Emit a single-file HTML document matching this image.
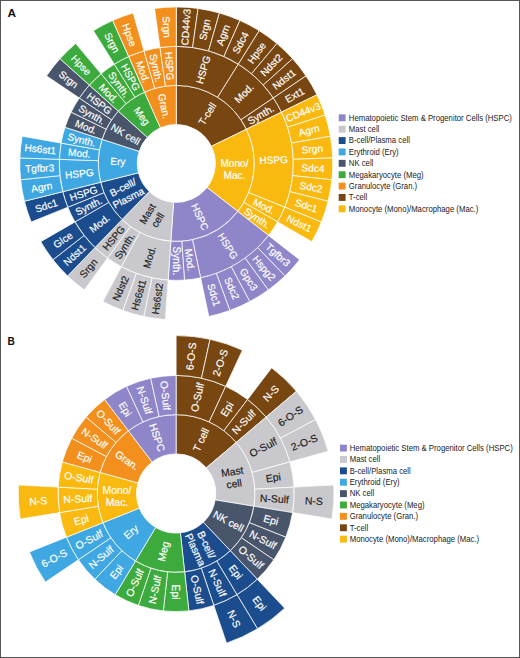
<!DOCTYPE html>
<html><head><meta charset="utf-8"><title>Figure</title>
<style>
html,body{margin:0;padding:0;background:#fff;}
body{width:520px;height:658px;overflow:hidden;position:relative;font-family:"Liberation Sans",sans-serif;}
svg{position:absolute;left:0;top:0;display:block;}
svg text{font-family:"Liberation Sans",sans-serif;}
.frame{position:absolute;left:0;top:0;width:518px;height:656px;border:1px solid #555;}
</style></head><body>
<svg width="520" height="658" viewBox="0 0 520 658">
<path d="M176.30 124.40L176.30 85.40A78.0 78.0 0 0 1 246.41 129.21L211.35 146.30A39.0 39.0 0 0 0 176.30 124.40Z" fill="#784610" stroke="#fff" stroke-width="0.75" stroke-linejoin="round"/>
<path d="M176.30 85.40L176.30 46.40A117.0 117.0 0 0 1 238.30 64.18L217.63 97.25A78.0 78.0 0 0 0 176.30 85.40Z" fill="#784610" stroke="#fff" stroke-width="0.75" stroke-linejoin="round"/>
<path d="M176.30 46.40L176.30 6.90A156.5 156.5 0 0 1 198.08 8.42L192.58 47.54A117.0 117.0 0 0 0 176.30 46.40Z" fill="#784610" stroke="#fff" stroke-width="0.75" stroke-linejoin="round"/>
<path d="M192.58 47.54L198.08 8.42A156.5 156.5 0 0 1 219.44 12.96L208.55 50.93A117.0 117.0 0 0 0 192.58 47.54Z" fill="#784610" stroke="#fff" stroke-width="0.75" stroke-linejoin="round"/>
<path d="M208.55 50.93L219.44 12.96A156.5 156.5 0 0 1 239.95 20.43L223.89 56.52A117.0 117.0 0 0 0 208.55 50.93Z" fill="#784610" stroke="#fff" stroke-width="0.75" stroke-linejoin="round"/>
<path d="M223.89 56.52L239.95 20.43A156.5 156.5 0 0 1 259.23 30.68L238.30 64.18A117.0 117.0 0 0 0 223.89 56.52Z" fill="#784610" stroke="#fff" stroke-width="0.75" stroke-linejoin="round"/>
<path d="M217.63 97.25L238.30 64.18A117.0 117.0 0 0 1 273.30 97.97L240.96 119.78A78.0 78.0 0 0 0 217.63 97.25Z" fill="#784610" stroke="#fff" stroke-width="0.75" stroke-linejoin="round"/>
<path d="M238.30 64.18L259.23 30.68A156.5 156.5 0 0 1 276.90 43.51L251.51 73.77A117.0 117.0 0 0 0 238.30 64.18Z" fill="#784610" stroke="#fff" stroke-width="0.75" stroke-linejoin="round"/>
<path d="M251.51 73.77L276.90 43.51A156.5 156.5 0 0 1 292.60 58.68L263.25 85.11A117.0 117.0 0 0 0 251.51 73.77Z" fill="#784610" stroke="#fff" stroke-width="0.75" stroke-linejoin="round"/>
<path d="M263.25 85.11L292.60 58.68A156.5 156.5 0 0 1 306.04 75.89L273.30 97.97A117.0 117.0 0 0 0 263.25 85.11Z" fill="#784610" stroke="#fff" stroke-width="0.75" stroke-linejoin="round"/>
<path d="M240.96 119.78L273.30 97.97A117.0 117.0 0 0 1 281.46 112.11L246.41 129.21A78.0 78.0 0 0 0 240.96 119.78Z" fill="#784610" stroke="#fff" stroke-width="0.75" stroke-linejoin="round"/>
<path d="M273.30 97.97L306.04 75.89A156.5 156.5 0 0 1 316.96 94.79L281.46 112.11A117.0 117.0 0 0 0 273.30 97.97Z" fill="#784610" stroke="#fff" stroke-width="0.75" stroke-linejoin="round"/>
<path d="M211.35 146.30L246.41 129.21A78.0 78.0 0 0 1 237.76 211.42L207.03 187.41A39.0 39.0 0 0 0 211.35 146.30Z" fill="#F9B90F" stroke="#fff" stroke-width="0.75" stroke-linejoin="round"/>
<path d="M246.41 129.21L281.46 112.11A117.0 117.0 0 0 1 284.78 207.23L248.62 192.62A78.0 78.0 0 0 0 246.41 129.21Z" fill="#F9B90F" stroke="#fff" stroke-width="0.75" stroke-linejoin="round"/>
<path d="M281.46 112.11L316.96 94.79A156.5 156.5 0 0 1 325.14 115.04L287.57 127.25A117.0 117.0 0 0 0 281.46 112.11Z" fill="#F9B90F" stroke="#fff" stroke-width="0.75" stroke-linejoin="round"/>
<path d="M287.57 127.25L325.14 115.04A156.5 156.5 0 0 1 330.42 136.22L291.52 143.08A117.0 117.0 0 0 0 287.57 127.25Z" fill="#F9B90F" stroke="#fff" stroke-width="0.75" stroke-linejoin="round"/>
<path d="M291.52 143.08L330.42 136.22A156.5 156.5 0 0 1 332.70 157.94L293.23 159.32A117.0 117.0 0 0 0 291.52 143.08Z" fill="#F9B90F" stroke="#fff" stroke-width="0.75" stroke-linejoin="round"/>
<path d="M293.23 159.32L332.70 157.94A156.5 156.5 0 0 1 331.94 179.76L292.66 175.63A117.0 117.0 0 0 0 293.23 159.32Z" fill="#F9B90F" stroke="#fff" stroke-width="0.75" stroke-linejoin="round"/>
<path d="M292.66 175.63L331.94 179.76A156.5 156.5 0 0 1 328.15 201.26L289.82 191.70A117.0 117.0 0 0 0 292.66 175.63Z" fill="#F9B90F" stroke="#fff" stroke-width="0.75" stroke-linejoin="round"/>
<path d="M289.82 191.70L328.15 201.26A156.5 156.5 0 0 1 321.40 222.03L284.78 207.23A117.0 117.0 0 0 0 289.82 191.70Z" fill="#F9B90F" stroke="#fff" stroke-width="0.75" stroke-linejoin="round"/>
<path d="M248.62 192.62L284.78 207.23A117.0 117.0 0 0 1 277.62 221.90L243.85 202.40A78.0 78.0 0 0 0 248.62 192.62Z" fill="#F9B90F" stroke="#fff" stroke-width="0.75" stroke-linejoin="round"/>
<path d="M284.78 207.23L321.40 222.03A156.5 156.5 0 0 1 311.83 241.65L277.62 221.90A117.0 117.0 0 0 0 284.78 207.23Z" fill="#F9B90F" stroke="#fff" stroke-width="0.75" stroke-linejoin="round"/>
<path d="M243.85 202.40L277.62 221.90A117.0 117.0 0 0 1 268.50 235.43L237.76 211.42A78.0 78.0 0 0 0 243.85 202.40Z" fill="#F9B90F" stroke="#fff" stroke-width="0.75" stroke-linejoin="round"/>
<path d="M207.03 187.41L237.76 211.42A78.0 78.0 0 0 1 170.86 241.21L173.58 202.30A39.0 39.0 0 0 0 207.03 187.41Z" fill="#8F86C9" stroke="#fff" stroke-width="0.75" stroke-linejoin="round"/>
<path d="M237.76 211.42L268.50 235.43A117.0 117.0 0 0 1 200.63 277.84L192.52 239.70A78.0 78.0 0 0 0 237.76 211.42Z" fill="#8F86C9" stroke="#fff" stroke-width="0.75" stroke-linejoin="round"/>
<path d="M268.50 235.43L299.62 259.75A156.5 156.5 0 0 1 285.01 275.98L257.58 247.56A117.0 117.0 0 0 0 268.50 235.43Z" fill="#8F86C9" stroke="#fff" stroke-width="0.75" stroke-linejoin="round"/>
<path d="M257.58 247.56L285.01 275.98A156.5 156.5 0 0 1 268.29 290.01L245.07 258.05A117.0 117.0 0 0 0 257.58 247.56Z" fill="#8F86C9" stroke="#fff" stroke-width="0.75" stroke-linejoin="round"/>
<path d="M245.07 258.05L268.29 290.01A156.5 156.5 0 0 1 249.77 301.58L231.23 266.70A117.0 117.0 0 0 0 245.07 258.05Z" fill="#8F86C9" stroke="#fff" stroke-width="0.75" stroke-linejoin="round"/>
<path d="M231.23 266.70L249.77 301.58A156.5 156.5 0 0 1 229.83 310.46L216.32 273.34A117.0 117.0 0 0 0 231.23 266.70Z" fill="#8F86C9" stroke="#fff" stroke-width="0.75" stroke-linejoin="round"/>
<path d="M216.32 273.34L229.83 310.46A156.5 156.5 0 0 1 208.84 316.48L200.63 277.84A117.0 117.0 0 0 0 216.32 273.34Z" fill="#8F86C9" stroke="#fff" stroke-width="0.75" stroke-linejoin="round"/>
<path d="M192.52 239.70L200.63 277.84A117.0 117.0 0 0 1 184.46 280.11L181.74 241.21A78.0 78.0 0 0 0 192.52 239.70Z" fill="#8F86C9" stroke="#fff" stroke-width="0.75" stroke-linejoin="round"/>
<path d="M181.74 241.21L184.46 280.11A117.0 117.0 0 0 1 168.14 280.11L170.86 241.21A78.0 78.0 0 0 0 181.74 241.21Z" fill="#8F86C9" stroke="#fff" stroke-width="0.75" stroke-linejoin="round"/>
<path d="M173.58 202.30L170.86 241.21A78.0 78.0 0 0 1 122.12 219.51L149.21 191.45A39.0 39.0 0 0 0 173.58 202.30Z" fill="#C9C9CD" stroke="#fff" stroke-width="0.75" stroke-linejoin="round"/>
<path d="M170.86 241.21L168.14 280.11A117.0 117.0 0 0 1 121.37 266.70L139.68 232.27A78.0 78.0 0 0 0 170.86 241.21Z" fill="#C9C9CD" stroke="#fff" stroke-width="0.75" stroke-linejoin="round"/>
<path d="M168.14 280.11L165.38 319.52A156.5 156.5 0 0 1 143.76 316.48L151.97 277.84A117.0 117.0 0 0 0 168.14 280.11Z" fill="#C9C9CD" stroke="#fff" stroke-width="0.75" stroke-linejoin="round"/>
<path d="M151.97 277.84L143.76 316.48A156.5 156.5 0 0 1 122.77 310.46L136.28 273.34A117.0 117.0 0 0 0 151.97 277.84Z" fill="#C9C9CD" stroke="#fff" stroke-width="0.75" stroke-linejoin="round"/>
<path d="M136.28 273.34L122.77 310.46A156.5 156.5 0 0 1 102.83 301.58L121.37 266.70A117.0 117.0 0 0 0 136.28 273.34Z" fill="#C9C9CD" stroke="#fff" stroke-width="0.75" stroke-linejoin="round"/>
<path d="M139.68 232.27L121.37 266.70A117.0 117.0 0 0 1 107.53 258.05L130.45 226.50A78.0 78.0 0 0 0 139.68 232.27Z" fill="#C9C9CD" stroke="#fff" stroke-width="0.75" stroke-linejoin="round"/>
<path d="M130.45 226.50L107.53 258.05A117.0 117.0 0 0 1 95.02 247.56L122.12 219.51A78.0 78.0 0 0 0 130.45 226.50Z" fill="#C9C9CD" stroke="#fff" stroke-width="0.75" stroke-linejoin="round"/>
<path d="M107.53 258.05L84.31 290.01A156.5 156.5 0 0 1 67.59 275.98L95.02 247.56A117.0 117.0 0 0 0 107.53 258.05Z" fill="#C9C9CD" stroke="#fff" stroke-width="0.75" stroke-linejoin="round"/>
<path d="M149.21 191.45L122.12 219.51A78.0 78.0 0 0 1 100.62 182.27L138.46 172.83A39.0 39.0 0 0 0 149.21 191.45Z" fill="#1B4C8E" stroke="#fff" stroke-width="0.75" stroke-linejoin="round"/>
<path d="M122.12 219.51L95.02 247.56A117.0 117.0 0 0 1 74.98 221.90L108.75 202.40A78.0 78.0 0 0 0 122.12 219.51Z" fill="#1B4C8E" stroke="#fff" stroke-width="0.75" stroke-linejoin="round"/>
<path d="M95.02 247.56L67.59 275.98A156.5 156.5 0 0 1 52.98 259.75L84.10 235.43A117.0 117.0 0 0 0 95.02 247.56Z" fill="#1B4C8E" stroke="#fff" stroke-width="0.75" stroke-linejoin="round"/>
<path d="M84.10 235.43L52.98 259.75A156.5 156.5 0 0 1 40.77 241.65L74.98 221.90A117.0 117.0 0 0 0 84.10 235.43Z" fill="#1B4C8E" stroke="#fff" stroke-width="0.75" stroke-linejoin="round"/>
<path d="M108.75 202.40L74.98 221.90A117.0 117.0 0 0 1 67.82 207.23L103.98 192.62A78.0 78.0 0 0 0 108.75 202.40Z" fill="#1B4C8E" stroke="#fff" stroke-width="0.75" stroke-linejoin="round"/>
<path d="M103.98 192.62L67.82 207.23A117.0 117.0 0 0 1 62.78 191.70L100.62 182.27A78.0 78.0 0 0 0 103.98 192.62Z" fill="#1B4C8E" stroke="#fff" stroke-width="0.75" stroke-linejoin="round"/>
<path d="M67.82 207.23L31.20 222.03A156.5 156.5 0 0 1 24.45 201.26L62.78 191.70A117.0 117.0 0 0 0 67.82 207.23Z" fill="#1B4C8E" stroke="#fff" stroke-width="0.75" stroke-linejoin="round"/>
<path d="M138.46 172.83L100.62 182.27A78.0 78.0 0 0 1 102.12 139.30L139.21 151.35A39.0 39.0 0 0 0 138.46 172.83Z" fill="#3FA7E1" stroke="#fff" stroke-width="0.75" stroke-linejoin="round"/>
<path d="M100.62 182.27L62.78 191.70A117.0 117.0 0 0 1 59.37 159.32L98.35 160.68A78.0 78.0 0 0 0 100.62 182.27Z" fill="#3FA7E1" stroke="#fff" stroke-width="0.75" stroke-linejoin="round"/>
<path d="M62.78 191.70L24.45 201.26A156.5 156.5 0 0 1 20.66 179.76L59.94 175.63A117.0 117.0 0 0 0 62.78 191.70Z" fill="#3FA7E1" stroke="#fff" stroke-width="0.75" stroke-linejoin="round"/>
<path d="M59.94 175.63L20.66 179.76A156.5 156.5 0 0 1 19.90 157.94L59.37 159.32A117.0 117.0 0 0 0 59.94 175.63Z" fill="#3FA7E1" stroke="#fff" stroke-width="0.75" stroke-linejoin="round"/>
<path d="M98.35 160.68L59.37 159.32A117.0 117.0 0 0 1 61.08 143.08L99.48 149.86A78.0 78.0 0 0 0 98.35 160.68Z" fill="#3FA7E1" stroke="#fff" stroke-width="0.75" stroke-linejoin="round"/>
<path d="M59.37 159.32L19.90 157.94A156.5 156.5 0 0 1 22.18 136.22L61.08 143.08A117.0 117.0 0 0 0 59.37 159.32Z" fill="#3FA7E1" stroke="#fff" stroke-width="0.75" stroke-linejoin="round"/>
<path d="M99.48 149.86L61.08 143.08A117.0 117.0 0 0 1 65.03 127.25L102.12 139.30A78.0 78.0 0 0 0 99.48 149.86Z" fill="#3FA7E1" stroke="#fff" stroke-width="0.75" stroke-linejoin="round"/>
<path d="M139.21 151.35L102.12 139.30A78.0 78.0 0 0 1 118.33 111.21L147.32 137.30A39.0 39.0 0 0 0 139.21 151.35Z" fill="#48556B" stroke="#fff" stroke-width="0.75" stroke-linejoin="round"/>
<path d="M102.12 139.30L65.03 127.25A117.0 117.0 0 0 1 71.14 112.11L106.19 129.21A78.0 78.0 0 0 0 102.12 139.30Z" fill="#48556B" stroke="#fff" stroke-width="0.75" stroke-linejoin="round"/>
<path d="M106.19 129.21L71.14 112.11A117.0 117.0 0 0 1 79.30 97.97L111.64 119.78A78.0 78.0 0 0 0 106.19 129.21Z" fill="#48556B" stroke="#fff" stroke-width="0.75" stroke-linejoin="round"/>
<path d="M111.64 119.78L79.30 97.97A117.0 117.0 0 0 1 89.35 85.11L118.33 111.21A78.0 78.0 0 0 0 111.64 119.78Z" fill="#48556B" stroke="#fff" stroke-width="0.75" stroke-linejoin="round"/>
<path d="M79.30 97.97L46.56 75.89A156.5 156.5 0 0 1 60.00 58.68L89.35 85.11A117.0 117.0 0 0 0 79.30 97.97Z" fill="#48556B" stroke="#fff" stroke-width="0.75" stroke-linejoin="round"/>
<path d="M147.32 137.30L118.33 111.21A78.0 78.0 0 0 1 144.57 92.14L160.44 127.77A39.0 39.0 0 0 0 147.32 137.30Z" fill="#3CAA3C" stroke="#fff" stroke-width="0.75" stroke-linejoin="round"/>
<path d="M118.33 111.21L89.35 85.11A117.0 117.0 0 0 1 101.09 73.77L126.16 103.65A78.0 78.0 0 0 0 118.33 111.21Z" fill="#3CAA3C" stroke="#fff" stroke-width="0.75" stroke-linejoin="round"/>
<path d="M89.35 85.11L60.00 58.68A156.5 156.5 0 0 1 75.70 43.51L101.09 73.77A117.0 117.0 0 0 0 89.35 85.11Z" fill="#3CAA3C" stroke="#fff" stroke-width="0.75" stroke-linejoin="round"/>
<path d="M126.16 103.65L101.09 73.77A117.0 117.0 0 0 1 114.30 64.18L134.97 97.25A78.0 78.0 0 0 0 126.16 103.65Z" fill="#3CAA3C" stroke="#fff" stroke-width="0.75" stroke-linejoin="round"/>
<path d="M134.97 97.25L114.30 64.18A117.0 117.0 0 0 1 128.71 56.52L144.57 92.14A78.0 78.0 0 0 0 134.97 97.25Z" fill="#3CAA3C" stroke="#fff" stroke-width="0.75" stroke-linejoin="round"/>
<path d="M114.30 64.18L93.37 30.68A156.5 156.5 0 0 1 112.65 20.43L128.71 56.52A117.0 117.0 0 0 0 114.30 64.18Z" fill="#3CAA3C" stroke="#fff" stroke-width="0.75" stroke-linejoin="round"/>
<path d="M160.44 127.77L144.57 92.14A78.0 78.0 0 0 1 176.30 85.40L176.30 124.40A39.0 39.0 0 0 0 160.44 127.77Z" fill="#F3901D" stroke="#fff" stroke-width="0.75" stroke-linejoin="round"/>
<path d="M144.57 92.14L128.71 56.52A117.0 117.0 0 0 1 144.05 50.93L154.80 88.42A78.0 78.0 0 0 0 144.57 92.14Z" fill="#F3901D" stroke="#fff" stroke-width="0.75" stroke-linejoin="round"/>
<path d="M128.71 56.52L112.65 20.43A156.5 156.5 0 0 1 133.16 12.96L144.05 50.93A117.0 117.0 0 0 0 128.71 56.52Z" fill="#F3901D" stroke="#fff" stroke-width="0.75" stroke-linejoin="round"/>
<path d="M154.80 88.42L144.05 50.93A117.0 117.0 0 0 1 160.02 47.54L165.44 86.16A78.0 78.0 0 0 0 154.80 88.42Z" fill="#F3901D" stroke="#fff" stroke-width="0.75" stroke-linejoin="round"/>
<path d="M165.44 86.16L160.02 47.54A117.0 117.0 0 0 1 176.30 46.40L176.30 85.40A78.0 78.0 0 0 0 165.44 86.16Z" fill="#F3901D" stroke="#fff" stroke-width="0.75" stroke-linejoin="round"/>
<path d="M160.02 47.54L154.52 8.42A156.5 156.5 0 0 1 176.30 6.90L176.30 46.40A117.0 117.0 0 0 0 160.02 47.54Z" fill="#F3901D" stroke="#fff" stroke-width="0.75" stroke-linejoin="round"/>
<g transform="translate(207.30 113.79) rotate(-58.00)"><text x="0" y="3.59" font-size="10.1" fill="#ffffff" stroke="#ffffff" stroke-width="0.18" text-anchor="middle">T-cell</text></g>
<g transform="translate(203.17 69.68) rotate(-74.00)"><text x="0" y="3.59" font-size="10.1" fill="#ffffff" stroke="#ffffff" stroke-width="0.18" text-anchor="middle">HSPG</text></g>
<g transform="translate(185.84 26.98) rotate(-86.00)"><text x="0" y="3.59" font-size="10.1" fill="#ffffff" stroke="#ffffff" stroke-width="0.18" text-anchor="middle">CD44v3</text></g>
<g transform="translate(204.73 29.64) rotate(-78.00)"><text x="0" y="3.59" font-size="10.1" fill="#ffffff" stroke="#ffffff" stroke-width="0.18" text-anchor="middle">Srgn</text></g>
<g transform="translate(223.07 34.90) rotate(-70.00)"><text x="0" y="3.59" font-size="10.1" fill="#ffffff" stroke="#ffffff" stroke-width="0.18" text-anchor="middle">Agrn</text></g>
<g transform="translate(240.50 42.66) rotate(-62.00)"><text x="0" y="3.59" font-size="10.1" fill="#ffffff" stroke="#ffffff" stroke-width="0.18" text-anchor="middle">Sdc4</text></g>
<g transform="translate(244.03 93.26) rotate(-46.00)"><text x="0" y="3.59" font-size="10.1" fill="#ffffff" stroke="#ffffff" stroke-width="0.18" text-anchor="middle">Mod.</text></g>
<g transform="translate(256.68 52.77) rotate(-54.00)"><text x="0" y="3.59" font-size="10.1" fill="#ffffff" stroke="#ffffff" stroke-width="0.18" text-anchor="middle">Hpse</text></g>
<g transform="translate(271.29 65.03) rotate(-46.00)"><text x="0" y="3.59" font-size="10.1" fill="#ffffff" stroke="#ffffff" stroke-width="0.18" text-anchor="middle">Ndst2</text></g>
<g transform="translate(284.06 79.21) rotate(-38.00)"><text x="0" y="3.59" font-size="10.1" fill="#ffffff" stroke="#ffffff" stroke-width="0.18" text-anchor="middle">Ndst1</text></g>
<g transform="translate(260.74 114.65) rotate(-30.00)"><text x="0" y="3.59" font-size="10.1" fill="#ffffff" stroke="#ffffff" stroke-width="0.18" text-anchor="middle">Synth.</text></g>
<g transform="translate(294.73 95.02) rotate(-30.00)"><text x="0" y="3.59" font-size="10.1" fill="#ffffff" stroke="#ffffff" stroke-width="0.18" text-anchor="middle">Ext1</text></g>
<g transform="translate(234.48 169.51) rotate(0.00)"><text x="0" y="-2.32" font-size="10.1" fill="#ffffff" stroke="#ffffff" stroke-width="0.18" text-anchor="middle">Mono/</text><text x="0" y="9.49" font-size="10.1" fill="#ffffff" stroke="#ffffff" stroke-width="0.18" text-anchor="middle">Mac.</text></g>
<g transform="translate(273.74 160.00) rotate(-2.00)"><text x="0" y="3.59" font-size="10.1" fill="#ffffff" stroke="#ffffff" stroke-width="0.18" text-anchor="middle">HSPG</text></g>
<g transform="translate(303.09 112.17) rotate(-22.00)"><text x="0" y="3.59" font-size="10.1" fill="#ffffff" stroke="#ffffff" stroke-width="0.18" text-anchor="middle">CD44v3</text></g>
<g transform="translate(308.99 130.32) rotate(-14.00)"><text x="0" y="3.59" font-size="10.1" fill="#ffffff" stroke="#ffffff" stroke-width="0.18" text-anchor="middle">Agrn</text></g>
<g transform="translate(312.30 149.11) rotate(-6.00)"><text x="0" y="3.59" font-size="10.1" fill="#ffffff" stroke="#ffffff" stroke-width="0.18" text-anchor="middle">Srgn</text></g>
<g transform="translate(312.97 168.17) rotate(2.00)"><text x="0" y="3.59" font-size="10.1" fill="#ffffff" stroke="#ffffff" stroke-width="0.18" text-anchor="middle">Sdc4</text></g>
<g transform="translate(310.97 187.15) rotate(10.00)"><text x="0" y="3.59" font-size="10.1" fill="#ffffff" stroke="#ffffff" stroke-width="0.18" text-anchor="middle">Sdc2</text></g>
<g transform="translate(306.36 205.66) rotate(18.00)"><text x="0" y="3.59" font-size="10.1" fill="#ffffff" stroke="#ffffff" stroke-width="0.18" text-anchor="middle">Sdc1</text></g>
<g transform="translate(263.93 206.14) rotate(26.00)"><text x="0" y="3.59" font-size="10.1" fill="#ffffff" stroke="#ffffff" stroke-width="0.18" text-anchor="middle">Mod.</text></g>
<g transform="translate(299.21 223.35) rotate(26.00)"><text x="0" y="3.59" font-size="10.1" fill="#ffffff" stroke="#ffffff" stroke-width="0.18" text-anchor="middle">Ndst1</text></g>
<g transform="translate(257.13 217.92) rotate(34.00)"><text x="0" y="3.59" font-size="10.1" fill="#ffffff" stroke="#ffffff" stroke-width="0.18" text-anchor="middle">Synth.</text></g>
<g transform="translate(200.09 216.84) rotate(66.00)"><text x="0" y="3.59" font-size="10.1" fill="#ffffff" stroke="#ffffff" stroke-width="0.18" text-anchor="middle">HSPC</text></g>
<g transform="translate(227.97 246.08) rotate(58.00)"><text x="0" y="3.59" font-size="10.1" fill="#ffffff" stroke="#ffffff" stroke-width="0.18" text-anchor="middle">HSPG</text></g>
<g transform="translate(277.93 254.90) rotate(42.00)"><text x="0" y="3.59" font-size="10.1" fill="#ffffff" stroke="#ffffff" stroke-width="0.18" text-anchor="middle">Tgfbr3</text></g>
<g transform="translate(264.20 268.16) rotate(50.00)"><text x="0" y="3.59" font-size="10.1" fill="#ffffff" stroke="#ffffff" stroke-width="0.18" text-anchor="middle">Hspg2</text></g>
<g transform="translate(248.77 279.37) rotate(58.00)"><text x="0" y="3.59" font-size="10.1" fill="#ffffff" stroke="#ffffff" stroke-width="0.18" text-anchor="middle">Gpc3</text></g>
<g transform="translate(231.92 288.33) rotate(66.00)"><text x="0" y="3.59" font-size="10.1" fill="#ffffff" stroke="#ffffff" stroke-width="0.18" text-anchor="middle">Sdc2</text></g>
<g transform="translate(213.99 294.85) rotate(74.00)"><text x="0" y="3.59" font-size="10.1" fill="#ffffff" stroke="#ffffff" stroke-width="0.18" text-anchor="middle">Sdc1</text></g>
<g transform="translate(189.87 259.95) rotate(82.00)"><text x="0" y="3.59" font-size="10.1" fill="#ffffff" stroke="#ffffff" stroke-width="0.18" text-anchor="middle">Mod.</text></g>
<g transform="translate(176.30 260.90) rotate(90.00)"><text x="0" y="3.59" font-size="10.1" fill="#ffffff" stroke="#ffffff" stroke-width="0.18" text-anchor="middle">Synth.</text></g>
<g transform="translate(152.51 216.84) rotate(-59.00)"><text x="0" y="-2.32" font-size="10.1" fill="#222222" stroke="#222222" stroke-width="0.18" text-anchor="middle">Mast</text><text x="0" y="9.49" font-size="10.1" fill="#222222" stroke="#222222" stroke-width="0.18" text-anchor="middle">cell</text></g>
<g transform="translate(149.43 257.12) rotate(-74.00)"><text x="0" y="3.59" font-size="10.1" fill="#222222" stroke="#222222" stroke-width="0.18" text-anchor="middle">Mod.</text></g>
<g transform="translate(157.27 298.82) rotate(-82.00)"><text x="0" y="3.59" font-size="10.1" fill="#222222" stroke="#222222" stroke-width="0.18" text-anchor="middle">Hs6st2</text></g>
<g transform="translate(138.61 294.85) rotate(-74.00)"><text x="0" y="3.59" font-size="10.1" fill="#222222" stroke="#222222" stroke-width="0.18" text-anchor="middle">Hs6st1</text></g>
<g transform="translate(120.68 288.33) rotate(-66.00)"><text x="0" y="3.59" font-size="10.1" fill="#222222" stroke="#222222" stroke-width="0.18" text-anchor="middle">Ndst2</text></g>
<g transform="translate(124.63 246.08) rotate(-58.00)"><text x="0" y="3.59" font-size="10.1" fill="#222222" stroke="#222222" stroke-width="0.18" text-anchor="middle">Synth.</text></g>
<g transform="translate(113.63 238.09) rotate(-50.00)"><text x="0" y="3.59" font-size="10.1" fill="#222222" stroke="#222222" stroke-width="0.18" text-anchor="middle">HSPG</text></g>
<g transform="translate(88.40 268.16) rotate(-50.00)"><text x="0" y="3.59" font-size="10.1" fill="#222222" stroke="#222222" stroke-width="0.18" text-anchor="middle">Srgn</text></g>
<g transform="translate(125.64 192.65) rotate(-27.00)"><text x="0" y="-2.32" font-size="10.1" fill="#ffffff" stroke="#ffffff" stroke-width="0.18" text-anchor="middle">B-cell/</text><text x="0" y="9.49" font-size="10.1" fill="#ffffff" stroke="#ffffff" stroke-width="0.18" text-anchor="middle">Plasma</text></g>
<g transform="translate(99.47 223.43) rotate(-38.00)"><text x="0" y="3.59" font-size="10.1" fill="#ffffff" stroke="#ffffff" stroke-width="0.18" text-anchor="middle">Mod.</text></g>
<g transform="translate(74.67 254.90) rotate(-42.00)"><text x="0" y="3.59" font-size="10.1" fill="#ffffff" stroke="#ffffff" stroke-width="0.18" text-anchor="middle">Ndst1</text></g>
<g transform="translate(62.93 239.87) rotate(-34.00)"><text x="0" y="3.59" font-size="10.1" fill="#ffffff" stroke="#ffffff" stroke-width="0.18" text-anchor="middle">Glce</text></g>
<g transform="translate(88.67 206.14) rotate(-26.00)"><text x="0" y="3.59" font-size="10.1" fill="#ffffff" stroke="#ffffff" stroke-width="0.18" text-anchor="middle">Synth.</text></g>
<g transform="translate(83.57 193.53) rotate(-18.00)"><text x="0" y="3.59" font-size="10.1" fill="#ffffff" stroke="#ffffff" stroke-width="0.18" text-anchor="middle">HSPG</text></g>
<g transform="translate(46.24 205.66) rotate(-18.00)"><text x="0" y="3.59" font-size="10.1" fill="#ffffff" stroke="#ffffff" stroke-width="0.18" text-anchor="middle">Sdc1</text></g>
<g transform="translate(117.84 161.36) rotate(2.00)"><text x="0" y="3.59" font-size="10.1" fill="#ffffff" stroke="#ffffff" stroke-width="0.18" text-anchor="middle">Ery</text></g>
<g transform="translate(79.33 173.59) rotate(-6.00)"><text x="0" y="3.59" font-size="10.1" fill="#ffffff" stroke="#ffffff" stroke-width="0.18" text-anchor="middle">HSPG</text></g>
<g transform="translate(41.63 187.15) rotate(-10.00)"><text x="0" y="3.59" font-size="10.1" fill="#ffffff" stroke="#ffffff" stroke-width="0.18" text-anchor="middle">Agrn</text></g>
<g transform="translate(39.63 168.17) rotate(-2.00)"><text x="0" y="3.59" font-size="10.1" fill="#ffffff" stroke="#ffffff" stroke-width="0.18" text-anchor="middle">Tgfbr3</text></g>
<g transform="translate(79.33 153.21) rotate(6.00)"><text x="0" y="3.59" font-size="10.1" fill="#ffffff" stroke="#ffffff" stroke-width="0.18" text-anchor="middle">Mod.</text></g>
<g transform="translate(40.30 149.11) rotate(6.00)"><text x="0" y="3.59" font-size="10.1" fill="#ffffff" stroke="#ffffff" stroke-width="0.18" text-anchor="middle">Hs6st1</text></g>
<g transform="translate(81.70 139.81) rotate(14.00)"><text x="0" y="3.59" font-size="10.1" fill="#ffffff" stroke="#ffffff" stroke-width="0.18" text-anchor="middle">Synth.</text></g>
<g transform="translate(125.64 134.15) rotate(30.00)"><text x="0" y="3.59" font-size="10.1" fill="#ffffff" stroke="#ffffff" stroke-width="0.18" text-anchor="middle">NK cell</text></g>
<g transform="translate(85.90 126.88) rotate(22.00)"><text x="0" y="3.59" font-size="10.1" fill="#ffffff" stroke="#ffffff" stroke-width="0.18" text-anchor="middle">Mod.</text></g>
<g transform="translate(91.86 114.65) rotate(30.00)"><text x="0" y="3.59" font-size="10.1" fill="#ffffff" stroke="#ffffff" stroke-width="0.18" text-anchor="middle">Synth.</text></g>
<g transform="translate(99.47 103.37) rotate(38.00)"><text x="0" y="3.59" font-size="10.1" fill="#ffffff" stroke="#ffffff" stroke-width="0.18" text-anchor="middle">HSPG</text></g>
<g transform="translate(68.54 79.21) rotate(38.00)"><text x="0" y="3.59" font-size="10.1" fill="#ffffff" stroke="#ffffff" stroke-width="0.18" text-anchor="middle">Srgn</text></g>
<g transform="translate(141.91 116.07) rotate(54.00)"><text x="0" y="3.59" font-size="10.1" fill="#ffffff" stroke="#ffffff" stroke-width="0.18" text-anchor="middle">Meg</text></g>
<g transform="translate(108.57 93.26) rotate(46.00)"><text x="0" y="3.59" font-size="10.1" fill="#ffffff" stroke="#ffffff" stroke-width="0.18" text-anchor="middle">Mod.</text></g>
<g transform="translate(81.31 65.03) rotate(46.00)"><text x="0" y="3.59" font-size="10.1" fill="#ffffff" stroke="#ffffff" stroke-width="0.18" text-anchor="middle">Hpse</text></g>
<g transform="translate(118.99 84.52) rotate(54.00)"><text x="0" y="3.59" font-size="10.1" fill="#ffffff" stroke="#ffffff" stroke-width="0.18" text-anchor="middle">Synth.</text></g>
<g transform="translate(130.53 77.31) rotate(62.00)"><text x="0" y="3.59" font-size="10.1" fill="#ffffff" stroke="#ffffff" stroke-width="0.18" text-anchor="middle">HSPG</text></g>
<g transform="translate(112.10 42.66) rotate(62.00)"><text x="0" y="3.59" font-size="10.1" fill="#ffffff" stroke="#ffffff" stroke-width="0.18" text-anchor="middle">Srgn</text></g>
<g transform="translate(164.14 106.18) rotate(78.00)"><text x="0" y="3.59" font-size="10.1" fill="#ffffff" stroke="#ffffff" stroke-width="0.18" text-anchor="middle">Gran.</text></g>
<g transform="translate(142.95 71.78) rotate(70.00)"><text x="0" y="3.59" font-size="10.1" fill="#ffffff" stroke="#ffffff" stroke-width="0.18" text-anchor="middle">Mod.</text></g>
<g transform="translate(129.53 34.90) rotate(70.00)"><text x="0" y="3.59" font-size="10.1" fill="#ffffff" stroke="#ffffff" stroke-width="0.18" text-anchor="middle">Hpse</text></g>
<g transform="translate(156.03 68.03) rotate(78.00)"><text x="0" y="3.59" font-size="10.1" fill="#ffffff" stroke="#ffffff" stroke-width="0.18" text-anchor="middle">Synth.</text></g>
<g transform="translate(169.50 66.14) rotate(86.00)"><text x="0" y="3.59" font-size="10.1" fill="#ffffff" stroke="#ffffff" stroke-width="0.18" text-anchor="middle">HSPG</text></g>
<g transform="translate(166.76 26.98) rotate(86.00)"><text x="0" y="3.59" font-size="10.1" fill="#ffffff" stroke="#ffffff" stroke-width="0.18" text-anchor="middle">Srgn</text></g>
<path d="M176.10 453.90L176.10 414.65A78.85 78.85 0 0 1 236.20 442.45L206.28 467.86A39.6 39.6 0 0 0 176.10 453.90Z" fill="#784610" stroke="#fff" stroke-width="0.75" stroke-linejoin="round"/>
<path d="M176.10 414.65L176.10 375.40A118.1 118.1 0 0 1 225.69 386.32L209.21 421.94A78.85 78.85 0 0 0 176.10 414.65Z" fill="#784610" stroke="#fff" stroke-width="0.75" stroke-linejoin="round"/>
<path d="M176.10 375.40L176.10 335.60A157.9 157.9 0 0 1 210.04 339.29L201.49 378.16A118.1 118.1 0 0 0 176.10 375.40Z" fill="#784610" stroke="#fff" stroke-width="0.75" stroke-linejoin="round"/>
<path d="M201.49 378.16L210.04 339.29A157.9 157.9 0 0 1 242.40 350.19L225.69 386.32A118.1 118.1 0 0 0 201.49 378.16Z" fill="#784610" stroke="#fff" stroke-width="0.75" stroke-linejoin="round"/>
<path d="M209.21 421.94L225.69 386.32A118.1 118.1 0 0 1 247.57 399.48L223.82 430.73A78.85 78.85 0 0 0 209.21 421.94Z" fill="#784610" stroke="#fff" stroke-width="0.75" stroke-linejoin="round"/>
<path d="M223.82 430.73L247.57 399.48A118.1 118.1 0 0 1 266.11 417.04L236.20 442.45A78.85 78.85 0 0 0 223.82 430.73Z" fill="#784610" stroke="#fff" stroke-width="0.75" stroke-linejoin="round"/>
<path d="M247.57 399.48L271.66 367.80A157.9 157.9 0 0 1 296.45 391.28L266.11 417.04A118.1 118.1 0 0 0 247.57 399.48Z" fill="#784610" stroke="#fff" stroke-width="0.75" stroke-linejoin="round"/>
<path d="M206.28 467.86L236.20 442.45A78.85 78.85 0 0 1 253.91 506.26L215.18 499.91A39.6 39.6 0 0 0 206.28 467.86Z" fill="#C9C9CD" stroke="#fff" stroke-width="0.75" stroke-linejoin="round"/>
<path d="M236.20 442.45L266.11 417.04A118.1 118.1 0 0 1 289.90 461.90L252.08 472.41A78.85 78.85 0 0 0 236.20 442.45Z" fill="#C9C9CD" stroke="#fff" stroke-width="0.75" stroke-linejoin="round"/>
<path d="M266.11 417.04L296.45 391.28A157.9 157.9 0 0 1 315.61 419.54L280.44 438.18A118.1 118.1 0 0 0 266.11 417.04Z" fill="#C9C9CD" stroke="#fff" stroke-width="0.75" stroke-linejoin="round"/>
<path d="M280.44 438.18L315.61 419.54A157.9 157.9 0 0 1 328.24 451.26L289.90 461.90A118.1 118.1 0 0 0 280.44 438.18Z" fill="#C9C9CD" stroke="#fff" stroke-width="0.75" stroke-linejoin="round"/>
<path d="M252.08 472.41L289.90 461.90A118.1 118.1 0 0 1 294.03 487.11L254.83 489.23A78.85 78.85 0 0 0 252.08 472.41Z" fill="#C9C9CD" stroke="#fff" stroke-width="0.75" stroke-linejoin="round"/>
<path d="M254.83 489.23L294.03 487.11A118.1 118.1 0 0 1 292.64 512.61L253.91 506.26A78.85 78.85 0 0 0 254.83 489.23Z" fill="#C9C9CD" stroke="#fff" stroke-width="0.75" stroke-linejoin="round"/>
<path d="M294.03 487.11L333.77 484.95A157.9 157.9 0 0 1 331.92 519.05L292.64 512.61A118.1 118.1 0 0 0 294.03 487.11Z" fill="#C9C9CD" stroke="#fff" stroke-width="0.75" stroke-linejoin="round"/>
<path d="M215.18 499.91L253.91 506.26A78.85 78.85 0 0 1 230.33 550.74L203.33 522.25A39.6 39.6 0 0 0 215.18 499.91Z" fill="#48556B" stroke="#fff" stroke-width="0.75" stroke-linejoin="round"/>
<path d="M253.91 506.26L292.64 512.61A118.1 118.1 0 0 1 285.81 537.21L249.35 522.69A78.85 78.85 0 0 0 253.91 506.26Z" fill="#48556B" stroke="#fff" stroke-width="0.75" stroke-linejoin="round"/>
<path d="M249.35 522.69L285.81 537.21A118.1 118.1 0 0 1 273.85 559.78L241.36 537.75A78.85 78.85 0 0 0 249.35 522.69Z" fill="#48556B" stroke="#fff" stroke-width="0.75" stroke-linejoin="round"/>
<path d="M241.36 537.75L273.85 559.78A118.1 118.1 0 0 1 257.32 579.24L230.33 550.74A78.85 78.85 0 0 0 241.36 537.75Z" fill="#48556B" stroke="#fff" stroke-width="0.75" stroke-linejoin="round"/>
<path d="M203.33 522.25L230.33 550.74A78.85 78.85 0 0 1 184.63 571.89L180.38 532.87A39.6 39.6 0 0 0 203.33 522.25Z" fill="#1B4C8E" stroke="#fff" stroke-width="0.75" stroke-linejoin="round"/>
<path d="M230.33 550.74L257.32 579.24A118.1 118.1 0 0 1 236.99 594.69L216.75 561.06A78.85 78.85 0 0 0 230.33 550.74Z" fill="#1B4C8E" stroke="#fff" stroke-width="0.75" stroke-linejoin="round"/>
<path d="M257.32 579.24L284.69 608.13A157.9 157.9 0 0 1 257.51 628.80L236.99 594.69A118.1 118.1 0 0 0 257.32 579.24Z" fill="#1B4C8E" stroke="#fff" stroke-width="0.75" stroke-linejoin="round"/>
<path d="M216.75 561.06L236.99 594.69A118.1 118.1 0 0 1 213.81 605.42L201.28 568.22A78.85 78.85 0 0 0 216.75 561.06Z" fill="#1B4C8E" stroke="#fff" stroke-width="0.75" stroke-linejoin="round"/>
<path d="M236.99 594.69L257.51 628.80A157.9 157.9 0 0 1 226.52 643.13L213.81 605.42A118.1 118.1 0 0 0 236.99 594.69Z" fill="#1B4C8E" stroke="#fff" stroke-width="0.75" stroke-linejoin="round"/>
<path d="M201.28 568.22L213.81 605.42A118.1 118.1 0 0 1 188.87 610.91L184.63 571.89A78.85 78.85 0 0 0 201.28 568.22Z" fill="#1B4C8E" stroke="#fff" stroke-width="0.75" stroke-linejoin="round"/>
<path d="M180.38 532.87L184.63 571.89A78.85 78.85 0 0 1 135.45 561.06L155.68 527.43A39.6 39.6 0 0 0 180.38 532.87Z" fill="#3CAA3C" stroke="#fff" stroke-width="0.75" stroke-linejoin="round"/>
<path d="M184.63 571.89L188.87 610.91A118.1 118.1 0 0 1 163.33 610.91L167.57 571.89A78.85 78.85 0 0 0 184.63 571.89Z" fill="#3CAA3C" stroke="#fff" stroke-width="0.75" stroke-linejoin="round"/>
<path d="M167.57 571.89L163.33 610.91A118.1 118.1 0 0 1 138.39 605.42L150.92 568.22A78.85 78.85 0 0 0 167.57 571.89Z" fill="#3CAA3C" stroke="#fff" stroke-width="0.75" stroke-linejoin="round"/>
<path d="M150.92 568.22L138.39 605.42A118.1 118.1 0 0 1 115.21 594.69L135.45 561.06A78.85 78.85 0 0 0 150.92 568.22Z" fill="#3CAA3C" stroke="#fff" stroke-width="0.75" stroke-linejoin="round"/>
<path d="M155.68 527.43L135.45 561.06A78.85 78.85 0 0 1 102.85 522.69L139.31 508.16A39.6 39.6 0 0 0 155.68 527.43Z" fill="#3FA7E1" stroke="#fff" stroke-width="0.75" stroke-linejoin="round"/>
<path d="M135.45 561.06L115.21 594.69A118.1 118.1 0 0 1 94.88 579.24L121.87 550.74A78.85 78.85 0 0 0 135.45 561.06Z" fill="#3FA7E1" stroke="#fff" stroke-width="0.75" stroke-linejoin="round"/>
<path d="M121.87 550.74L94.88 579.24A118.1 118.1 0 0 1 78.35 559.78L110.84 537.75A78.85 78.85 0 0 0 121.87 550.74Z" fill="#3FA7E1" stroke="#fff" stroke-width="0.75" stroke-linejoin="round"/>
<path d="M110.84 537.75L78.35 559.78A118.1 118.1 0 0 1 66.39 537.21L102.85 522.69A78.85 78.85 0 0 0 110.84 537.75Z" fill="#3FA7E1" stroke="#fff" stroke-width="0.75" stroke-linejoin="round"/>
<path d="M78.35 559.78L45.41 582.11A157.9 157.9 0 0 1 29.41 551.94L66.39 537.21A118.1 118.1 0 0 0 78.35 559.78Z" fill="#3FA7E1" stroke="#fff" stroke-width="0.75" stroke-linejoin="round"/>
<path d="M139.31 508.16L102.85 522.69A78.85 78.85 0 0 1 100.12 472.41L137.94 482.91A39.6 39.6 0 0 0 139.31 508.16Z" fill="#F9B90F" stroke="#fff" stroke-width="0.75" stroke-linejoin="round"/>
<path d="M102.85 522.69L66.39 537.21A118.1 118.1 0 0 1 59.56 512.61L98.29 506.26A78.85 78.85 0 0 0 102.85 522.69Z" fill="#F9B90F" stroke="#fff" stroke-width="0.75" stroke-linejoin="round"/>
<path d="M98.29 506.26L59.56 512.61A118.1 118.1 0 0 1 58.17 487.11L97.37 489.23A78.85 78.85 0 0 0 98.29 506.26Z" fill="#F9B90F" stroke="#fff" stroke-width="0.75" stroke-linejoin="round"/>
<path d="M59.56 512.61L20.28 519.05A157.9 157.9 0 0 1 18.43 484.95L58.17 487.11A118.1 118.1 0 0 0 59.56 512.61Z" fill="#F9B90F" stroke="#fff" stroke-width="0.75" stroke-linejoin="round"/>
<path d="M97.37 489.23L58.17 487.11A118.1 118.1 0 0 1 62.30 461.90L100.12 472.41A78.85 78.85 0 0 0 97.37 489.23Z" fill="#F9B90F" stroke="#fff" stroke-width="0.75" stroke-linejoin="round"/>
<path d="M137.94 482.91L100.12 472.41A78.85 78.85 0 0 1 128.38 430.73L152.14 461.97A39.6 39.6 0 0 0 137.94 482.91Z" fill="#F3901D" stroke="#fff" stroke-width="0.75" stroke-linejoin="round"/>
<path d="M100.12 472.41L62.30 461.90A118.1 118.1 0 0 1 71.76 438.18L106.44 456.57A78.85 78.85 0 0 0 100.12 472.41Z" fill="#F3901D" stroke="#fff" stroke-width="0.75" stroke-linejoin="round"/>
<path d="M106.44 456.57L71.76 438.18A118.1 118.1 0 0 1 86.09 417.04L116.00 442.45A78.85 78.85 0 0 0 106.44 456.57Z" fill="#F3901D" stroke="#fff" stroke-width="0.75" stroke-linejoin="round"/>
<path d="M116.00 442.45L86.09 417.04A118.1 118.1 0 0 1 104.63 399.48L128.38 430.73A78.85 78.85 0 0 0 116.00 442.45Z" fill="#F3901D" stroke="#fff" stroke-width="0.75" stroke-linejoin="round"/>
<path d="M152.14 461.97L128.38 430.73A78.85 78.85 0 0 1 176.10 414.65L176.10 453.90A39.6 39.6 0 0 0 152.14 461.97Z" fill="#8F86C9" stroke="#fff" stroke-width="0.75" stroke-linejoin="round"/>
<path d="M128.38 430.73L104.63 399.48A118.1 118.1 0 0 1 126.51 386.32L142.99 421.94A78.85 78.85 0 0 0 128.38 430.73Z" fill="#8F86C9" stroke="#fff" stroke-width="0.75" stroke-linejoin="round"/>
<path d="M142.99 421.94L126.51 386.32A118.1 118.1 0 0 1 150.71 378.16L159.15 416.49A78.85 78.85 0 0 0 142.99 421.94Z" fill="#8F86C9" stroke="#fff" stroke-width="0.75" stroke-linejoin="round"/>
<path d="M159.15 416.49L150.71 378.16A118.1 118.1 0 0 1 176.10 375.40L176.10 414.65A78.85 78.85 0 0 0 159.15 416.49Z" fill="#8F86C9" stroke="#fff" stroke-width="0.75" stroke-linejoin="round"/>
<g transform="translate(200.97 439.75) rotate(-65.17)"><text x="0" y="3.69" font-size="10.4" fill="#ffffff" stroke="#ffffff" stroke-width="0.18" text-anchor="middle">T cell</text></g>
<g transform="translate(197.27 397.33) rotate(-77.59)"><text x="0" y="3.69" font-size="10.4" fill="#ffffff" stroke="#ffffff" stroke-width="0.18" text-anchor="middle">O-Sulf</text></g>
<g transform="translate(191.02 356.31) rotate(-83.79)"><text x="0" y="3.69" font-size="10.4" fill="#ffffff" stroke="#ffffff" stroke-width="0.18" text-anchor="middle">6-O-S</text></g>
<g transform="translate(220.16 362.72) rotate(-71.38)"><text x="0" y="3.69" font-size="10.4" fill="#ffffff" stroke="#ffffff" stroke-width="0.18" text-anchor="middle">2-O-S</text></g>
<g transform="translate(226.87 409.12) rotate(-58.97)"><text x="0" y="3.69" font-size="10.4" fill="#ffffff" stroke="#ffffff" stroke-width="0.18" text-anchor="middle">Epi</text></g>
<g transform="translate(243.82 422.01) rotate(-46.55)"><text x="0" y="3.69" font-size="10.4" fill="#ffffff" stroke="#ffffff" stroke-width="0.18" text-anchor="middle">N-Sulf</text></g>
<g transform="translate(271.00 393.31) rotate(-46.55)"><text x="0" y="3.69" font-size="10.4" fill="#ffffff" stroke="#ffffff" stroke-width="0.18" text-anchor="middle">N-S</text></g>
<g transform="translate(233.17 477.66) rotate(-9.00)"><text x="0" y="-2.39" font-size="10.4" fill="#222222" stroke="#222222" stroke-width="0.18" text-anchor="middle">Mast</text><text x="0" y="9.78" font-size="10.4" fill="#222222" stroke="#222222" stroke-width="0.18" text-anchor="middle">cell</text></g>
<g transform="translate(263.10 447.37) rotate(-27.93)"><text x="0" y="3.69" font-size="10.4" fill="#222222" stroke="#222222" stroke-width="0.18" text-anchor="middle">O-Sulf</text></g>
<g transform="translate(290.32 416.06) rotate(-34.14)"><text x="0" y="3.69" font-size="10.4" fill="#222222" stroke="#222222" stroke-width="0.18" text-anchor="middle">6-O-S</text></g>
<g transform="translate(304.30 442.42) rotate(-21.72)"><text x="0" y="3.69" font-size="10.4" fill="#222222" stroke="#222222" stroke-width="0.18" text-anchor="middle">2-O-S</text></g>
<g transform="translate(273.28 477.57) rotate(-9.31)"><text x="0" y="3.69" font-size="10.4" fill="#222222" stroke="#222222" stroke-width="0.18" text-anchor="middle">Epi</text></g>
<g transform="translate(274.43 498.83) rotate(3.10)"><text x="0" y="3.69" font-size="10.4" fill="#222222" stroke="#222222" stroke-width="0.18" text-anchor="middle">N-Sulf</text></g>
<g transform="translate(313.90 500.97) rotate(3.10)"><text x="0" y="3.69" font-size="10.4" fill="#222222" stroke="#222222" stroke-width="0.18" text-anchor="middle">N-S</text></g>
<g transform="translate(228.43 521.24) rotate(27.93)"><text x="0" y="3.69" font-size="10.4" fill="#ffffff" stroke="#ffffff" stroke-width="0.18" text-anchor="middle">NK cell</text></g>
<g transform="translate(270.99 519.84) rotate(15.52)"><text x="0" y="3.69" font-size="10.4" fill="#ffffff" stroke="#ffffff" stroke-width="0.18" text-anchor="middle">Epi</text></g>
<g transform="translate(263.10 539.63) rotate(27.93)"><text x="0" y="3.69" font-size="10.4" fill="#ffffff" stroke="#ffffff" stroke-width="0.18" text-anchor="middle">N-Sulf</text></g>
<g transform="translate(251.15 557.25) rotate(40.34)"><text x="0" y="3.69" font-size="10.4" fill="#ffffff" stroke="#ffffff" stroke-width="0.18" text-anchor="middle">O-Sulf</text></g>
<g transform="translate(200.97 547.25) rotate(65.17)"><text x="0" y="-2.39" font-size="10.4" fill="#ffffff" stroke="#ffffff" stroke-width="0.18" text-anchor="middle">B-cell/</text><text x="0" y="9.78" font-size="10.4" fill="#ffffff" stroke="#ffffff" stroke-width="0.18" text-anchor="middle">Plasma</text></g>
<g transform="translate(235.69 571.90) rotate(52.76)"><text x="0" y="3.69" font-size="10.4" fill="#ffffff" stroke="#ffffff" stroke-width="0.18" text-anchor="middle">Epi</text></g>
<g transform="translate(259.61 603.36) rotate(52.76)"><text x="0" y="3.69" font-size="10.4" fill="#ffffff" stroke="#ffffff" stroke-width="0.18" text-anchor="middle">Epi</text></g>
<g transform="translate(217.45 582.87) rotate(65.17)"><text x="0" y="3.69" font-size="10.4" fill="#ffffff" stroke="#ffffff" stroke-width="0.18" text-anchor="middle">N-Sulf</text></g>
<g transform="translate(234.04 618.75) rotate(65.17)"><text x="0" y="3.69" font-size="10.4" fill="#ffffff" stroke="#ffffff" stroke-width="0.18" text-anchor="middle">N-S</text></g>
<g transform="translate(197.27 589.67) rotate(77.59)"><text x="0" y="3.69" font-size="10.4" fill="#ffffff" stroke="#ffffff" stroke-width="0.18" text-anchor="middle">O-Sulf</text></g>
<g transform="translate(163.37 551.34) rotate(-77.59)"><text x="0" y="3.69" font-size="10.4" fill="#ffffff" stroke="#ffffff" stroke-width="0.18" text-anchor="middle">Meg</text></g>
<g transform="translate(176.10 591.98) rotate(90.00)"><text x="0" y="3.69" font-size="10.4" fill="#ffffff" stroke="#ffffff" stroke-width="0.18" text-anchor="middle">Epi</text></g>
<g transform="translate(154.93 589.67) rotate(-77.59)"><text x="0" y="3.69" font-size="10.4" fill="#ffffff" stroke="#ffffff" stroke-width="0.18" text-anchor="middle">N-Sulf</text></g>
<g transform="translate(134.75 582.87) rotate(-65.17)"><text x="0" y="3.69" font-size="10.4" fill="#ffffff" stroke="#ffffff" stroke-width="0.18" text-anchor="middle">O-Sulf</text></g>
<g transform="translate(130.96 531.84) rotate(-40.34)"><text x="0" y="3.69" font-size="10.4" fill="#ffffff" stroke="#ffffff" stroke-width="0.18" text-anchor="middle">Ery</text></g>
<g transform="translate(116.51 571.90) rotate(-52.76)"><text x="0" y="3.69" font-size="10.4" fill="#ffffff" stroke="#ffffff" stroke-width="0.18" text-anchor="middle">Epi</text></g>
<g transform="translate(101.05 557.25) rotate(-40.34)"><text x="0" y="3.69" font-size="10.4" fill="#ffffff" stroke="#ffffff" stroke-width="0.18" text-anchor="middle">N-Sulf</text></g>
<g transform="translate(89.10 539.63) rotate(-27.93)"><text x="0" y="3.69" font-size="10.4" fill="#ffffff" stroke="#ffffff" stroke-width="0.18" text-anchor="middle">O-Sulf</text></g>
<g transform="translate(54.18 558.14) rotate(-27.93)"><text x="0" y="3.69" font-size="10.4" fill="#ffffff" stroke="#ffffff" stroke-width="0.18" text-anchor="middle">6-O-S</text></g>
<g transform="translate(116.96 496.71) rotate(0.00)"><text x="0" y="-2.39" font-size="10.4" fill="#ffffff" stroke="#ffffff" stroke-width="0.18" text-anchor="middle">Mono/</text><text x="0" y="9.78" font-size="10.4" fill="#ffffff" stroke="#ffffff" stroke-width="0.18" text-anchor="middle">Mac.</text></g>
<g transform="translate(81.21 519.84) rotate(-15.52)"><text x="0" y="3.69" font-size="10.4" fill="#ffffff" stroke="#ffffff" stroke-width="0.18" text-anchor="middle">Epi</text></g>
<g transform="translate(77.77 498.83) rotate(-3.10)"><text x="0" y="3.69" font-size="10.4" fill="#ffffff" stroke="#ffffff" stroke-width="0.18" text-anchor="middle">N-Sulf</text></g>
<g transform="translate(38.30 500.97) rotate(-3.10)"><text x="0" y="3.69" font-size="10.4" fill="#ffffff" stroke="#ffffff" stroke-width="0.18" text-anchor="middle">N-S</text></g>
<g transform="translate(78.92 477.57) rotate(9.31)"><text x="0" y="3.69" font-size="10.4" fill="#ffffff" stroke="#ffffff" stroke-width="0.18" text-anchor="middle">O-Sulf</text></g>
<g transform="translate(127.08 460.26) rotate(34.14)"><text x="0" y="3.69" font-size="10.4" fill="#ffffff" stroke="#ffffff" stroke-width="0.18" text-anchor="middle">Gran.</text></g>
<g transform="translate(84.62 457.05) rotate(21.72)"><text x="0" y="3.69" font-size="10.4" fill="#ffffff" stroke="#ffffff" stroke-width="0.18" text-anchor="middle">Epi</text></g>
<g transform="translate(94.59 438.24) rotate(34.14)"><text x="0" y="3.69" font-size="10.4" fill="#ffffff" stroke="#ffffff" stroke-width="0.18" text-anchor="middle">N-Sulf</text></g>
<g transform="translate(108.38 422.01) rotate(46.55)"><text x="0" y="3.69" font-size="10.4" fill="#ffffff" stroke="#ffffff" stroke-width="0.18" text-anchor="middle">O-Sulf</text></g>
<g transform="translate(157.19 437.38) rotate(71.38)"><text x="0" y="3.69" font-size="10.4" fill="#ffffff" stroke="#ffffff" stroke-width="0.18" text-anchor="middle">HSPC</text></g>
<g transform="translate(125.33 409.12) rotate(58.97)"><text x="0" y="3.69" font-size="10.4" fill="#ffffff" stroke="#ffffff" stroke-width="0.18" text-anchor="middle">Epi</text></g>
<g transform="translate(144.66 400.18) rotate(71.38)"><text x="0" y="3.69" font-size="10.4" fill="#ffffff" stroke="#ffffff" stroke-width="0.18" text-anchor="middle">N-Sulf</text></g>
<g transform="translate(165.45 395.60) rotate(83.79)"><text x="0" y="3.69" font-size="10.4" fill="#ffffff" stroke="#ffffff" stroke-width="0.18" text-anchor="middle">O-Sulf</text></g>
<rect x="338.7" y="114.35" width="6.9" height="6.9" fill="#8F86C9"/>
<text transform="translate(348.80 120.67) scale(0.945 1)" font-size="8.2" fill="#222">Hematopoietic Stem &amp; Progenitor Cells (HSPC)</text>
<rect x="338.7" y="125.73" width="6.9" height="6.9" fill="#C9C9CD"/>
<text transform="translate(348.80 132.05) scale(0.945 1)" font-size="8.2" fill="#222">Mast cell</text>
<rect x="338.7" y="137.11" width="6.9" height="6.9" fill="#1B4C8E"/>
<text transform="translate(348.80 143.43) scale(0.945 1)" font-size="8.2" fill="#222">B-cell/Plasma cell</text>
<rect x="338.7" y="148.49" width="6.9" height="6.9" fill="#3FA7E1"/>
<text transform="translate(348.80 154.81) scale(0.945 1)" font-size="8.2" fill="#222">Erythroid (Ery)</text>
<rect x="338.7" y="159.87" width="6.9" height="6.9" fill="#48556B"/>
<text transform="translate(348.80 166.19) scale(0.945 1)" font-size="8.2" fill="#222">NK cell</text>
<rect x="338.7" y="171.25" width="6.9" height="6.9" fill="#3CAA3C"/>
<text transform="translate(348.80 177.57) scale(0.945 1)" font-size="8.2" fill="#222">Megakaryocyte (Meg)</text>
<rect x="338.7" y="182.63" width="6.9" height="6.9" fill="#F3901D"/>
<text transform="translate(348.80 188.95) scale(0.945 1)" font-size="8.2" fill="#222">Granulocyte (Gran.)</text>
<rect x="338.7" y="194.01" width="6.9" height="6.9" fill="#784610"/>
<text transform="translate(348.80 200.33) scale(0.945 1)" font-size="8.2" fill="#222">T-cell</text>
<rect x="338.7" y="205.39" width="6.9" height="6.9" fill="#F9B90F"/>
<text transform="translate(348.80 211.71) scale(0.945 1)" font-size="8.2" fill="#222">Monocyte (Mono)/Macrophage (Mac.)</text>
<rect x="340.0" y="444.65" width="6.9" height="6.9" fill="#8F86C9"/>
<text transform="translate(349.70 450.97) scale(0.945 1)" font-size="8.2" fill="#222">Hematopoietic Stem &amp; Progenitor Cells (HSPC)</text>
<rect x="340.0" y="456.03" width="6.9" height="6.9" fill="#C9C9CD"/>
<text transform="translate(349.70 462.35) scale(0.945 1)" font-size="8.2" fill="#222">Mast cell</text>
<rect x="340.0" y="467.41" width="6.9" height="6.9" fill="#1B4C8E"/>
<text transform="translate(349.70 473.73) scale(0.945 1)" font-size="8.2" fill="#222">B-cell/Plasma cell</text>
<rect x="340.0" y="478.79" width="6.9" height="6.9" fill="#3FA7E1"/>
<text transform="translate(349.70 485.11) scale(0.945 1)" font-size="8.2" fill="#222">Erythroid (Ery)</text>
<rect x="340.0" y="490.17" width="6.9" height="6.9" fill="#48556B"/>
<text transform="translate(349.70 496.49) scale(0.945 1)" font-size="8.2" fill="#222">NK cell</text>
<rect x="340.0" y="501.55" width="6.9" height="6.9" fill="#3CAA3C"/>
<text transform="translate(349.70 507.87) scale(0.945 1)" font-size="8.2" fill="#222">Megakaryocyte (Meg)</text>
<rect x="340.0" y="512.93" width="6.9" height="6.9" fill="#F3901D"/>
<text transform="translate(349.70 519.25) scale(0.945 1)" font-size="8.2" fill="#222">Granulocyte (Gran.)</text>
<rect x="340.0" y="524.31" width="6.9" height="6.9" fill="#784610"/>
<text transform="translate(349.70 530.63) scale(0.945 1)" font-size="8.2" fill="#222">T-cell</text>
<rect x="340.0" y="535.69" width="6.9" height="6.9" fill="#F9B90F"/>
<text transform="translate(349.70 542.01) scale(0.945 1)" font-size="8.2" fill="#222">Monocyte (Mono)/Macrophage (Mac.)</text>
<text x="7.6" y="16.6" font-size="11.8" font-weight="bold" fill="#111">A</text>
<text transform="translate(7.6 345.2) scale(0.86 1)" font-size="11.8" font-weight="bold" fill="#111">B</text>
</svg>
<div class="frame"></div>
</body></html>
